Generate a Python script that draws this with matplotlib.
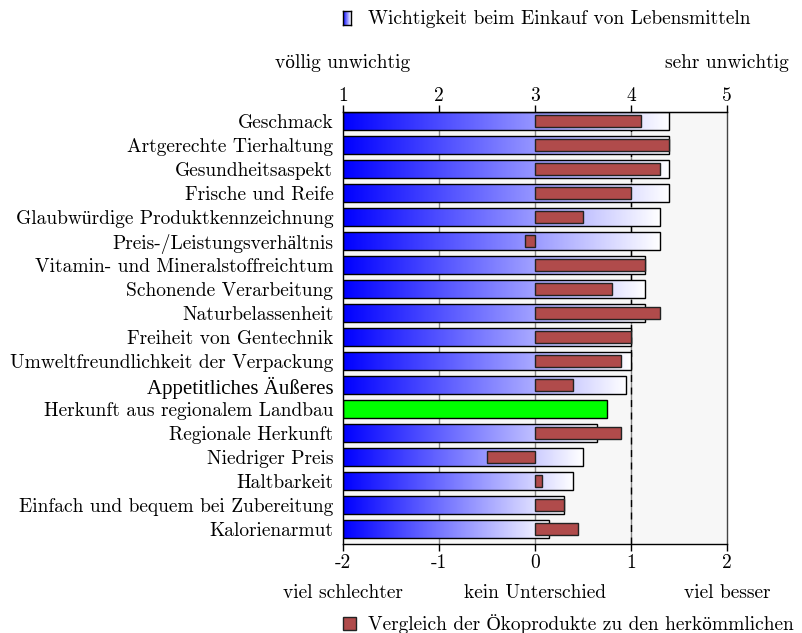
import numpy as np
import matplotlib
matplotlib.use("Agg")
import matplotlib.pyplot as plt
from matplotlib.patches import Rectangle

plt.rcParams['font.family'] = ['cmr10', 'Liberation Serif']
plt.rcParams['axes.unicode_minus'] = False

# data
categories = [
    "Geschmack", "Artgerechte Tierhaltung", "Gesundheitsaspekt", "Frische und Reife",
    "Glaubwürdige Produktkennzeichnung", "Preis-/Leistungsverhältnis",
    "Vitamin- und Mineralstoffreichtum", "Schonende Verarbeitung", "Naturbelassenheit",
    "Freiheit von Gentechnik", "Umweltfreundlichkeit der Verpackung",
    "Appetitliches Äußeres", "Herkunft aus regionalem Landbau", "Regionale Herkunft",
    "Niedriger Preis", "Haltbarkeit", "Einfach und bequem bei Zubereitung", "Kalorienarmut",
]
# importance, scale 1 (völlig unwichtig) .. 5 (sehr unwichtig)
importance = [4.4, 4.4, 4.4, 4.4, 4.3, 4.3, 4.15, 4.15, 4.15,
              4.0, 4.0, 3.95, 3.75, 3.65, 3.5, 3.4, 3.3, 3.15]
# comparison organic vs. conventional, scale -2 .. 2 (None = no value)
comparison = [1.1, 1.4, 1.3, 1.0, 0.5, -0.1, 1.15, 0.8, 1.3,
              1.0, 0.9, 0.4, None, 0.9, -0.5, 0.07, 0.3, 0.45]
highlight = "Herkunft aus regionalem Landbau"

bottom_ticks = [-2, -1, 0, 1, 2]
bottom_labels = ["-2", "-1", "0", "1", "2"]
top_ticks = [1, 2, 3, 4, 5]

red = "#b04b4b"
fs = 14

fig = plt.figure(figsize=(8.03, 6.33), dpi=100)
ax = fig.add_axes([343 / 803, 1 - 544 / 633, 384 / 803, 432 / 633])
ax.set_facecolor("#f7f7f7")

n = len(categories)
y = np.arange(n)
h = 0.75
grad = np.linspace(0, 1, 256)[None, :]
cmap = matplotlib.colors.LinearSegmentedColormap.from_list("bw", ["#0000ff", "#ffffff"])

for i, (cat, imp) in enumerate(zip(categories, importance)):
    x1 = imp - 3
    if cat == highlight:
        ax.barh(i, x1 + 2, left=-2, height=h, color="#00ff00", edgecolor="black",
                linewidth=1.0, zorder=3)
    else:
        ax.imshow(grad, cmap=cmap, aspect="auto", extent=[-2, x1, i + h / 2, i - h / 2],
                  zorder=2, interpolation="bilinear")
        ax.barh(i, x1 + 2, left=-2, height=h, fill=False, edgecolor="black",
                linewidth=1.0, zorder=3)

for i, c in enumerate(comparison):
    if c is None:
        continue
    ax.barh(i, c, left=0, height=0.46, color=red, edgecolor="#222222",
            linewidth=1.0, zorder=4)

for gx in [-1, 0, 1]:
    ax.axvline(gx, color="#888888", linewidth=1.0, zorder=1)
ax.axvline(1, color="black", linewidth=1.0, linestyle=(0, (5, 4)), zorder=1.5)

ax.set_xlim(-2, 2)
ax.set_ylim(n - 1 + 0.625, -0.375)
ax.set_yticks(y)
ax.set_yticklabels(categories, fontsize=fs)
ax.tick_params(axis="y", length=0, pad=7)
# cmr10 has no proper Ä glyph, so this label uses the fallback serif
for lbl in ax.get_yticklabels():
    if "Ä" in lbl.get_text():
        lbl.set_family(["Liberation Serif"])
        lbl.set_fontsize(fs + 1)
ax.set_xticks(bottom_ticks)
ax.set_xticklabels(bottom_labels, fontsize=fs)
ax.tick_params(axis="x", direction="out", length=5, width=1, pad=2)

top = ax.secondary_xaxis("top", functions=(lambda v: v + 3, lambda v: v - 3))
top.set_xticks(top_ticks)
top.set_xticklabels([str(t) for t in top_ticks], fontsize=fs)
top.tick_params(direction="out", length=5, width=1, pad=0)

for s in ax.spines.values():
    s.set_linewidth(1.0)
    s.set_zorder(5)
ax.spines["right"].set_color("#444444")

# axis end labels
fig.text(343 / 803, 1 - 63 / 633, "völlig unwichtig", ha="center", va="center", fontsize=fs)
fig.text(727 / 803, 1 - 63 / 633, "sehr unwichtig", ha="center", va="center", fontsize=fs)
fig.text(343 / 803, 1 - 593 / 633, "viel schlechter", ha="center", va="center", fontsize=fs)
fig.text(535 / 803, 1 - 593 / 633, "kein Unterschied", ha="center", va="center", fontsize=fs)
fig.text(727 / 803, 1 - 593 / 633, "viel besser", ha="center", va="center", fontsize=fs)

# legends
lax = fig.add_axes([343 / 803, 1 - 25 / 633, 8 / 803, 14 / 633])
lax.imshow(grad, cmap=cmap, aspect="auto", interpolation="bilinear")
lax.set_xticks([])
lax.set_yticks([])
for s in lax.spines.values():
    s.set_linewidth(1.0)
fig.text(368 / 803, 1 - 19 / 633, "Wichtigkeit beim Einkauf von Lebensmitteln",
         ha="left", va="center", fontsize=fs)

fig.patches.append(Rectangle((343 / 803, 1 - 630 / 633), 13 / 803, 13 / 633,
                             transform=fig.transFigure, facecolor=red,
                             edgecolor="#222222", linewidth=1.0))
fig.text(368 / 803, 1 - 624 / 633, "Vergleich der Ökoprodukte zu den herkömmlichen",
         ha="left", va="center", fontsize=fs)

fig.savefig("out.png", dpi=100)
